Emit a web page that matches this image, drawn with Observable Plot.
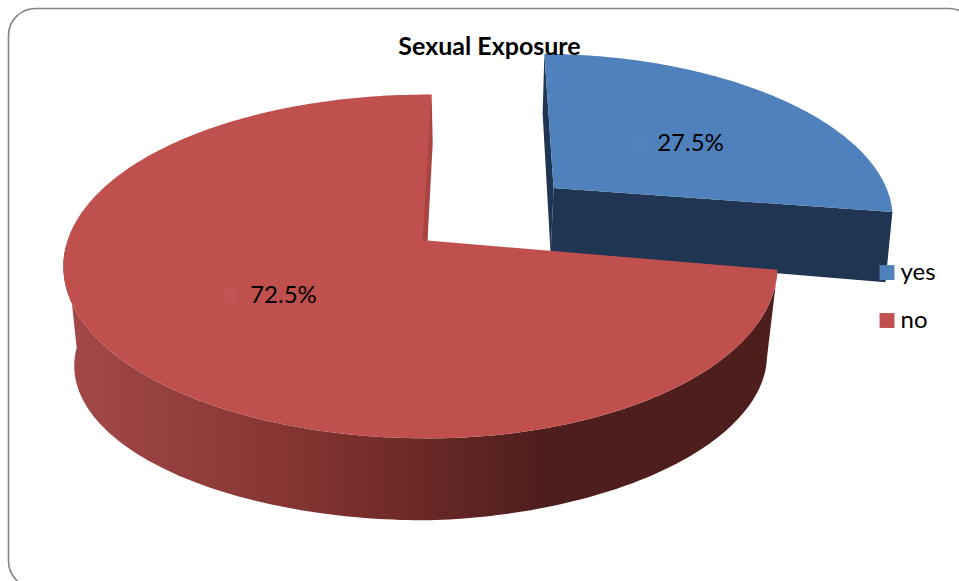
<!DOCTYPE html>
<html><head><meta charset="utf-8">
<script src="https://cdn.jsdelivr.net/npm/d3@7"></script>
<script src="https://cdn.jsdelivr.net/npm/@observablehq/plot@0.6"></script>
<style>html,body{margin:0;padding:0;background:#fff;overflow:hidden}svg{display:block;overflow:hidden}</style>
</head><body><div id="chart"></div>
<script>
const title = "Sexual Exposure";
const categories = ["yes", "no"];
const shares = [27.5, 72.5];
const colors = ["#4f81bd", "#c0504d"];
const labelX = [690, 283];
const labelY = [143, 295];
const legendY = [272, 320];

// perspective view of the pie
const view = {cx: 427, cy: 240, rR: 346, rL: 360, s: 168, k: 0.151};
const lowBlue = {shrink: 0.985, s: 168, depth: 72, tilt: 0};
const lowRed = {shrink: 0.97, s: 151, depth: 102, tilt: 11};
const startAngle = 0.8;
const explode = [0.392, -0.335];
const sweep = shares.map(s => s * 3.6);

function P(u, v, low) {
  const w = 1 - view.k * v;
  const r = u < 0 ? view.rL : view.rR;
  let x = view.cx + r * u / w, y = view.cy + view.s * v / w;
  if (low) {
    x = view.cx + (x - view.cx) * low.shrink;
    y = view.cy + low.s * v / w + low.depth / (low === lowBlue ? w : 1) - low.tilt * Math.max(u, 0);
  }
  return {x, y};
}
const rim = (a, o, low) => {
  const t = a * Math.PI / 180;
  return P(o[0] + Math.sin(t), o[1] - Math.cos(t), low);
};
const range = (a, b) => d3.range(a, b, 1).concat([b]);
const O = [0, 0];

const blueEnd = startAngle + sweep[0];
const blueRimEnd = blueEnd - 0.5;
const redEnd = blueEnd + sweep[1];

// apex of the pulled-out slice, nudged to the perspective of the picture
const apexTop = (p => ({x: p.x - 3, y: p.y + 1}))(P(...explode));
const apexLow = (p => ({x: p.x - 4, y: p.y - 1}))(P(...explode, lowBlue));

const blueTop = [apexTop, ...range(startAngle, blueRimEnd).map(a => rim(a, explode))];
const blueWallEnd = [apexTop, rim(blueRimEnd, explode), rim(blueRimEnd, explode, lowBlue), apexLow];
const blueWallStart = [rim(startAngle, explode), rim(startAngle, explode, lowBlue), apexLow, apexTop];
const redTop = [P(0, 0), ...range(blueEnd, redEnd).map(a => rim(a, O))];
const sideEnd = 268;
const redSide = [...range(blueEnd, sideEnd).map(a => rim(a, O)), ...range(blueEnd, sideEnd).reverse().map(a => rim(a, O, lowRed))];
const redRimEnd = rim(redEnd, O);
const redStrip = [
  redRimEnd,
  {x: redRimEnd.x + 1, y: redRimEnd.y + 49},
  P(0, 0),
  {x: P(0, 0).x - 5, y: P(0, 0).y}
];

const poly = (data, fill) => Plot.line(data, {x: "x", y: "y", fill, stroke: "none", curve: "linear"});

const plot = Plot.plot({
  width: 959, height: 581,
  margin: 0,
  x: {domain: [0, 959], range: [0, 959], axis: null},
  y: {domain: [0, 581], range: [0, 581], axis: null},
  marks: [
    () => {
      const ns = "http://www.w3.org/2000/svg";
      const defs = document.createElementNS(ns, "defs");
      const g = document.createElementNS(ns, "linearGradient");
      g.setAttribute("id", "redSideGrad");
      [[0, "#a5494a"], [0.39, "#7c302d"], [0.67, "#4e1e1c"], [1, "#4e1e1c"]].forEach(([o, c]) => {
        const st = document.createElementNS(ns, "stop");
        st.setAttribute("offset", o); st.setAttribute("stop-color", c);
        g.appendChild(st);
      });
      defs.appendChild(g);
      return defs;
    },
    Plot.rect([0], {x1: 8.5, x2: 976, y1: 8.5, y2: 588, rx: 27, fill: "none", stroke: "#868686", strokeWidth: 1.6}),
    poly(blueWallStart, "#1f3552"),
    poly(blueWallEnd, "#1f3552"),
    poly(blueTop, colors[0]),
    poly(redSide, "url(#redSideGrad)"),
    poly(redTop, colors[1]),
    poly(redStrip, "#a84543"),
    Plot.dot([0], {x: () => labelX[0] - 53, y: () => labelY[0], symbol: "square", r: 8, fill: "#5083bf"}),
    Plot.dot([1], {x: () => labelX[1] - 53, y: () => labelY[1], symbol: "square", r: 8, fill: "#c25553"}),
    Plot.text(shares, {x: (d, i) => labelX[i], y: (d, i) => labelY[i], text: d => d.toFixed(1) + "%", fontSize: 24, fontFamily: "Lato", fill: "#000", textAnchor: "middle"}),
    Plot.dot(categories, {x: () => 886.5, y: (d, i) => legendY[i], symbol: "square", r: 8.4, fill: (d, i) => colors[i]}),
    Plot.text(categories, {x: () => 900, y: (d, i) => legendY[i], text: d => d, fontSize: 24, fontFamily: "Lato", fill: "#000", textAnchor: "start"}),
    Plot.text([title], {x: () => 489, y: () => 46, text: d => d, fontSize: 25, fontWeight: "bold", fontFamily: "Lato", fill: "#000", textAnchor: "middle"})
  ]
});
document.getElementById("chart").appendChild(plot);
</script></body></html>
